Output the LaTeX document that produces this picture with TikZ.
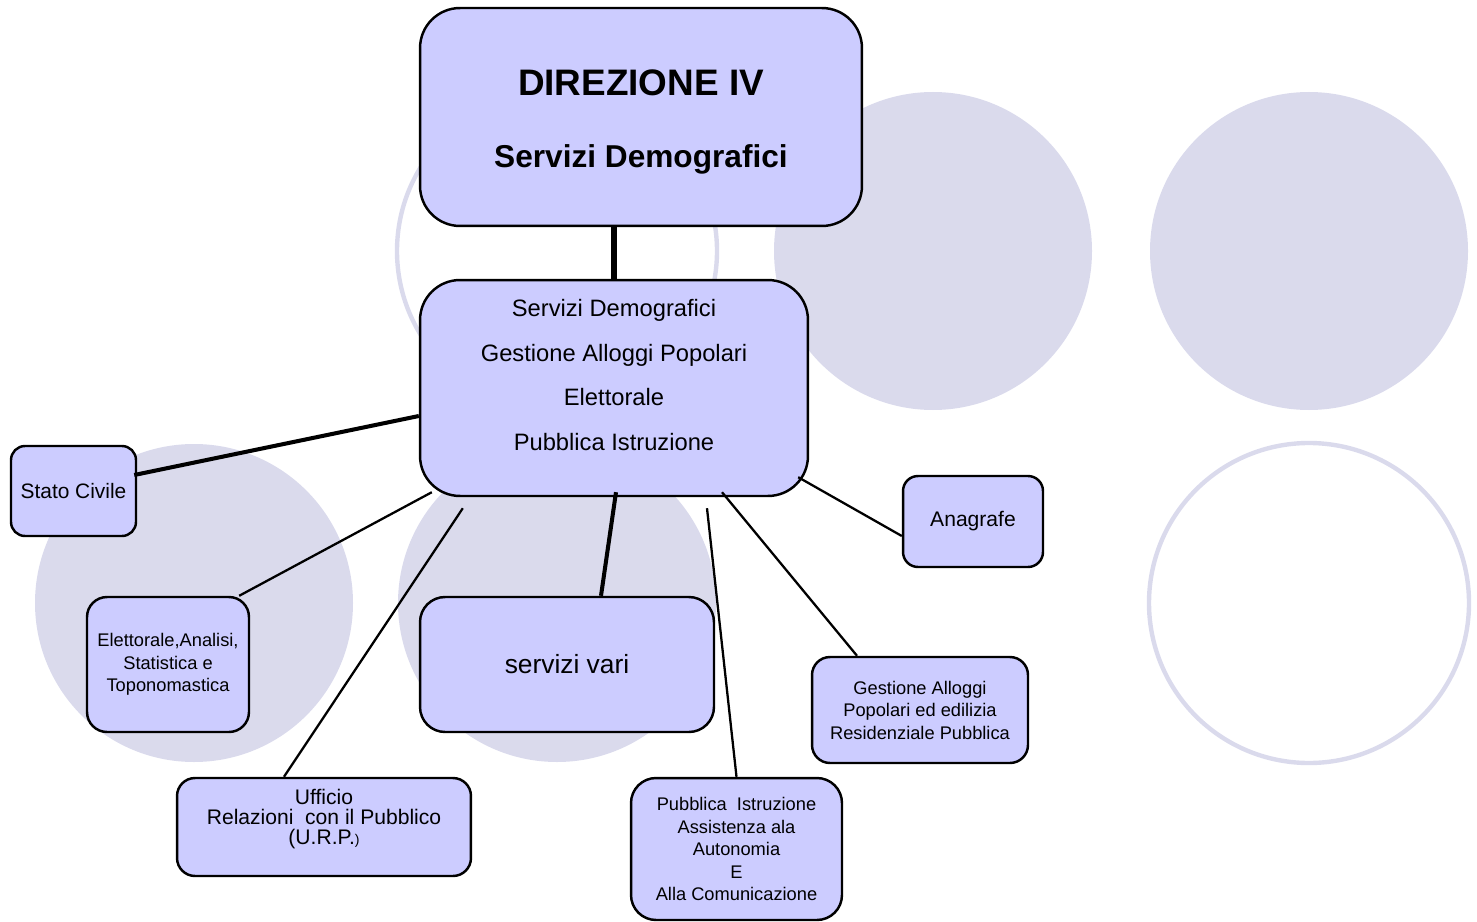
\documentclass[tikz,border=0pt]{standalone}
\usepackage{fontspec}
\setmainfont{Liberation Sans}
\definecolor{lilla}{RGB}{204,204,255}
\definecolor{grigiolilla}{RGB}{218,218,236}
\tikzset{
	ufficio/.style={draw=black, line width=1.4pt, fill=lilla, rounded corners=#1,
		align=center, inner sep=0pt},
	ufficio/.default=0.4cm,
	disco/.style={fill=grigiolilla},
	anello/.style={draw=grigiolilla, line width=2.5pt},
	linea/.style={line width=#1},
	linea/.default=1.3pt
}

\begin{document}
\begin{tikzpicture}[x=0.02cm, y=-0.02cm]
	\useasboundingbox (0,0) rectangle (1477,922);

	% sfondo
	\foreach \cx/\cy in {933/251, 1309/251, 194/603, 557/603} {
		\fill[disco] (\cx,\cy) circle[radius=159];
	}
	\foreach \cx/\cy in {557/251, 1309/603} {
		\draw[anello] (\cx,\cy) circle[radius=160];
	}

	% uffici
	\node[ufficio=0.8cm, minimum width=8.84cm, minimum height=4.36cm] (dir) at (641,117) {};
	\node[align=center, font=\bfseries\fontsize{18pt}{40.8pt}\selectfont] (dirtxt) at (641,122)
		{{\fontsize{21pt}{40.8pt}\selectfont DIREZIONE IV}\\Servizi Demografici};
	\node[ufficio=0.8cm, minimum width=7.76cm, minimum height=4.32cm] (serv) at (614,388) {};
	\node[align=center, font=\fontsize{13.5pt}{25.5pt}\selectfont] (servtxt) at (614,375)
		{Servizi Demografici\\Gestione Alloggi Popolari\\Elettorale\\Pubblica Istruzione};

	\node[ufficio=0.28cm, minimum width=2.5cm, minimum height=1.8cm,
		font=\fontsize{11.9pt}{14pt}\selectfont] (stato) at (73.5,491) {Stato Civile};
	\node[ufficio=0.4cm, minimum width=3.24cm, minimum height=2.7cm,
		font=\fontsize{10.4pt}{12.8pt}\selectfont] (elett) at (168,664.5)
		{Elettorale,Analisi,\\Statistica e\\Toponomastica};
	\node[ufficio=0.5cm, minimum width=5.88cm, minimum height=2.7cm,
		font=\fontsize{15pt}{18pt}\selectfont] (vari) at (567,664.5) {servizi vari};
	\node[ufficio=0.3cm, minimum width=2.8cm, minimum height=1.82cm,
		font=\fontsize{12pt}{14pt}\selectfont] (anag) at (973,521.5) {Anagrafe};
	\node[ufficio=0.36cm, minimum width=4.32cm, minimum height=2.12cm,
		font=\fontsize{10.4pt}{12.8pt}\selectfont] (alloggi) at (920,710)
		{Gestione Alloggi\\Popolari ed edilizia\\Residenziale Pubblica};
	\node[ufficio=0.36cm, minimum width=5.88cm, minimum height=1.96cm] (urp) at (324,827) {};
	\node[align=center, font=\fontsize{12pt}{11.6pt}\selectfont] (urptxt) at (324,819)
		{Ufficio\\Relazioni\ \ con il Pubblico\\(U.R.P.{\fontsize{8pt}{8pt}\selectfont )}};
	\node[ufficio=0.5cm, minimum width=4.22cm, minimum height=2.84cm,
		font=\fontsize{10.4pt}{12.8pt}\selectfont] (istr) at (736.5,849)
		{Pubblica\ \ Istruzione\\Assistenza ala\\Autonomia\\E\\Alla Comunicazione};

	% collegamenti
	\draw[linea=3.4pt] (serv.north) -- (serv.north |- dir.south);
	\draw[linea=2.3pt] ([shift={(0,28)}]serv.west) -- ([shift={(-3,-16)}]stato.east);
	\draw[linea] ([shift={(13,-5)}]serv.south west) -- ([shift={(-11,0)}]elett.north east);
	\draw[linea] ([shift={(44,11)}]serv.south west) -- ([shift={(-40,0)}]urp.north);
	\draw[linea=2.3pt] ([shift={(2,-5)}]serv.south) -- ([shift={(34,0)}]vari.north);
	\draw[linea] ([shift={(93,11)}]serv.south) -- (istr.north);
	\draw[linea] ([shift={(108,-5)}]serv.south) -- ([shift={(-63,0)}]alloggi.north);
	\draw[linea] ([shift={(-11,-20)}]serv.south east) -- ([shift={(0,14.5)}]anag.west);
\end{tikzpicture}
\end{document}
